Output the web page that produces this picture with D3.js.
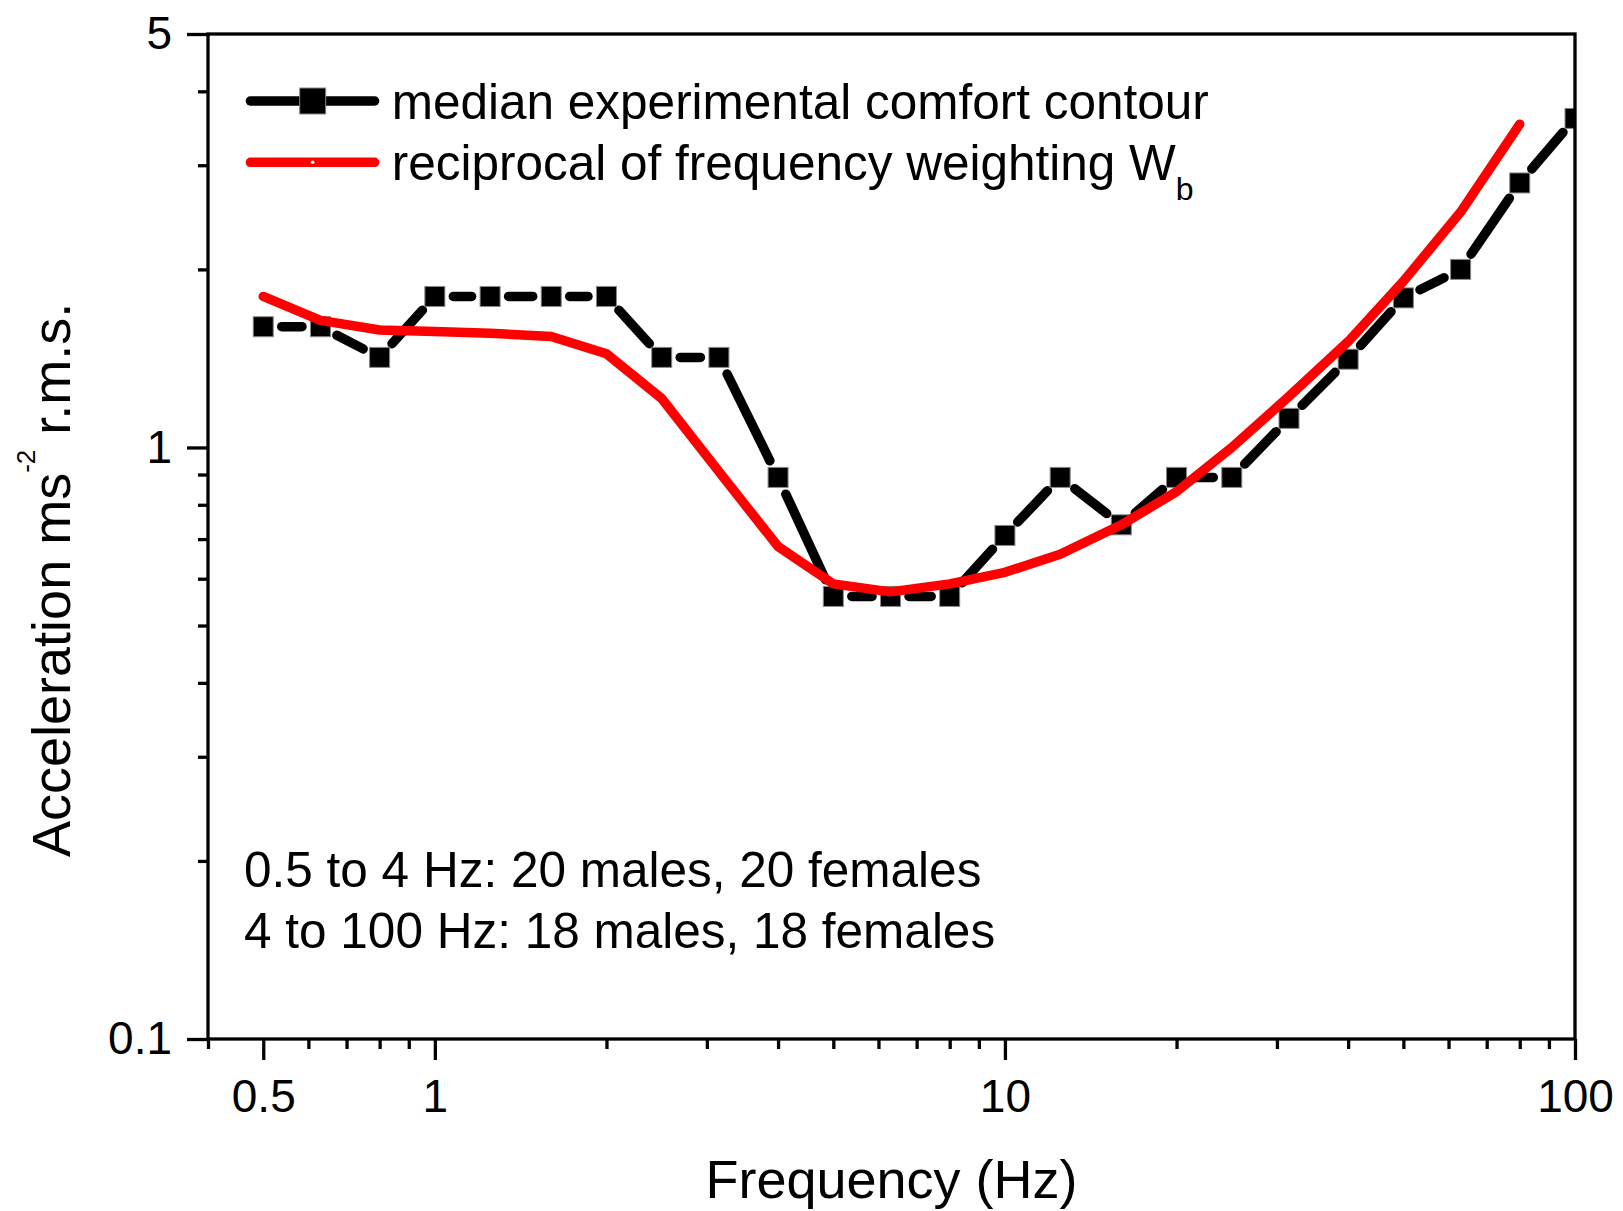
<!DOCTYPE html>
<html>
<head>
<meta charset="utf-8">
<script src="https://cdn.jsdelivr.net/npm/d3@7"></script>
<style>
  body { margin: 0; background: #fff; }
  svg text { font-family: "Liberation Sans", Arial, sans-serif; fill: #000; }
</style>
</head>
<body>
<script>
// third-octave centre frequencies (Hz) and median comfort contour (m/s2 r.m.s.)
const frequency = [0.5, 0.63, 0.8, 1, 1.25, 1.6, 2, 2.5, 3.15, 4, 5, 6.3, 8, 10, 12.5, 16, 20, 25, 31.5, 40, 50, 63, 80, 100];
const comfortContour = [1.60, 1.60, 1.42, 1.80, 1.80, 1.80, 1.80, 1.42, 1.42, 0.89, 0.56, 0.56, 0.56, 0.71, 0.89, 0.74, 0.89, 0.89, 1.12, 1.41, 1.79, 2.00, 2.80, 3.60];

// reciprocal of Wb weighting
const wbFrequency = [0.5, 0.63, 0.8, 1, 1.25, 1.6, 2, 2.5, 3.15, 4, 5, 6.3, 8, 10, 12.5, 16, 20, 25, 31.5, 40, 50, 63, 80];
const wbReciprocal = [1.80, 1.64, 1.58, 1.57, 1.56, 1.54, 1.44, 1.21, 0.91, 0.68, 0.588, 0.570, 0.588, 0.615, 0.66, 0.74, 0.842, 1.0, 1.22, 1.51, 1.91, 2.50, 3.52];

const xMajor = [0.5, 1, 10, 100];
const xMinor = [0.4, 0.6, 0.7, 0.8, 0.9, 2, 3, 4, 5, 6, 7, 8, 9, 20, 30, 40, 50, 60, 70, 80, 90];
const yMajor = [0.1, 1, 5];
const yMinor = [0.2, 0.3, 0.4, 0.5, 0.6, 0.7, 0.8, 0.9, 2, 3, 4];

const legendLabels = ["median experimental comfort contour", "reciprocal of frequency weighting W"];
const noteLines = ["0.5 to 4 Hz: 20 males, 20 females", "4 to 100 Hz: 18 males, 18 females"];

const WIDTH = 1623, HEIGHT = 1211;
const pL = 208, pR = 1575, pT = 34, pB = 1039;
const FONT = '"Liberation Sans", Arial, sans-serif';

const svg = d3.select("body").append("svg").attr("width", WIDTH).attr("height", HEIGHT);

const x = d3.scaleLog().domain([0.4, 100]).range([pL, pR]);
const y = d3.scaleLog().domain([0.1, 5]).range([pB, pT]);

// axes
function styleAxis(g) {
  g.attr("font-family", FONT).attr("font-size", 46);
  g.select(".domain").remove();
  g.selectAll("line").attr("stroke", "#000").attr("stroke-width", 3.3);
}

const gx = svg.append("g").attr("transform", `translate(0,${pB})`)
  .call(d3.axisBottom(x).tickValues(xMajor).tickSize(21).tickFormat(d => d));
styleAxis(gx);
gx.selectAll("text").attr("y", 72.7).attr("dy", null);

svg.append("g").attr("transform", `translate(0,${pB})`)
  .call(d3.axisBottom(x).tickValues(xMinor).tickSize(10).tickFormat(""))
  .call(styleAxis);

const gy = svg.append("g").attr("transform", `translate(${pL},0)`)
  .call(d3.axisLeft(y).tickValues(yMajor).tickSize(21).tickPadding(15).tickFormat(d => d));
styleAxis(gy);

svg.append("g").attr("transform", `translate(${pL},0)`)
  .call(d3.axisLeft(y).tickValues(yMinor).tickSize(10).tickFormat(""))
  .call(styleAxis);

// clip
svg.append("clipPath").attr("id", "plot")
  .append("rect").attr("x", pL).attr("y", pT).attr("width", pR - pL).attr("height", pB - pT);

const plot = svg.append("g").attr("clip-path", "url(#plot)");

// black series: segments with gaps around the symbols
const pts = frequency.map((f, i) => [x(f), y(comfortContour[i])]);
const gap = 18.5;
const segs = [];
for (let i = 0; i < pts.length - 1; i++) {
  const [x0, y0] = pts[i], [x1, y1] = pts[i + 1];
  const dx = x1 - x0, dy = y1 - y0, len = Math.hypot(dx, dy);
  if (len > 2 * gap) {
    const ux = dx / len, uy = dy / len;
    segs.push([x0 + ux * gap, y0 + uy * gap, x1 - ux * gap, y1 - uy * gap]);
  }
}
plot.selectAll("line.seg").data(segs).enter().append("line")
  .attr("class", "seg")
  .attr("x1", d => d[0]).attr("y1", d => d[1])
  .attr("x2", d => d[2]).attr("y2", d => d[3])
  .attr("stroke", "#000").attr("stroke-width", 9.5).attr("stroke-linecap", "round");

plot.selectAll("rect.mk").data(frequency).enter().append("rect")
  .attr("class", "mk")
  .attr("x", (d) => x(d) - 10)
  .attr("y", (d, i) => y(comfortContour[i]) - 10)
  .attr("width", 20).attr("height", 20)
  .attr("fill", "#000").attr("stroke", "#888").attr("stroke-width", 1);

// red series
const redLine = d3.line().x((d, i) => x(wbFrequency[i])).y(d => y(d));
plot.append("path").datum(wbReciprocal)
  .attr("d", redLine)
  .attr("fill", "none").attr("stroke", "#ff0000").attr("stroke-width", 9.5)
  .attr("stroke-linejoin", "round").attr("stroke-linecap", "round");

// frame
svg.append("rect").attr("x", pL).attr("y", pT).attr("width", pR - pL).attr("height", pB - pT)
  .attr("fill", "none").attr("stroke", "#000").attr("stroke-width", 3.3);

// legend
const leg = svg.append("g");
leg.append("line").attr("x1", 250.4).attr("x2", 374.6).attr("y1", 101).attr("y2", 101)
  .attr("stroke", "#000").attr("stroke-width", 9.5).attr("stroke-linecap", "round");
leg.append("rect").attr("x", 312.7 - 13).attr("y", 101 - 13).attr("width", 26).attr("height", 26)
  .attr("fill", "#000").attr("stroke", "#888").attr("stroke-width", 1);
leg.append("line").attr("x1", 250.4).attr("x2", 374.6).attr("y1", 162.3).attr("y2", 162.3)
  .attr("stroke", "#ff0000").attr("stroke-width", 9.5).attr("stroke-linecap", "round");
leg.append("circle").attr("cx", 312.7).attr("cy", 162.3).attr("r", 1.8).attr("fill", "#fff");

leg.append("text").attr("x", 391.7).attr("y", 118.5).attr("font-size", 49.5).text(legendLabels[0]);
const t2 = leg.append("text").attr("x", 391.7).attr("y", 180).attr("font-size", 49.5);
t2.append("tspan").text(legendLabels[1]);
t2.append("tspan").attr("font-size", 32).attr("dy", 20).text("b");

// note
svg.selectAll("text.note").data(noteLines).enter().append("text")
  .attr("class", "note")
  .attr("x", 244).attr("y", (d, i) => 887 + i * 60.5)
  .attr("font-size", 49.5).text(d => d);

// axis titles
svg.append("text").attr("x", 891.5).attr("y", 1198).attr("text-anchor", "middle")
  .attr("font-size", 54).text("Frequency (Hz)");

const yt = svg.append("text").attr("transform", "translate(70,857) rotate(-90)")
  .attr("font-size", 54);
yt.append("tspan").text("Acceleration ms");
yt.append("tspan").attr("font-size", 26).attr("dy", -35).text("-2");
yt.append("tspan").attr("dy", 35).text(" r.m.s.");
</script>
</body>
</html>
